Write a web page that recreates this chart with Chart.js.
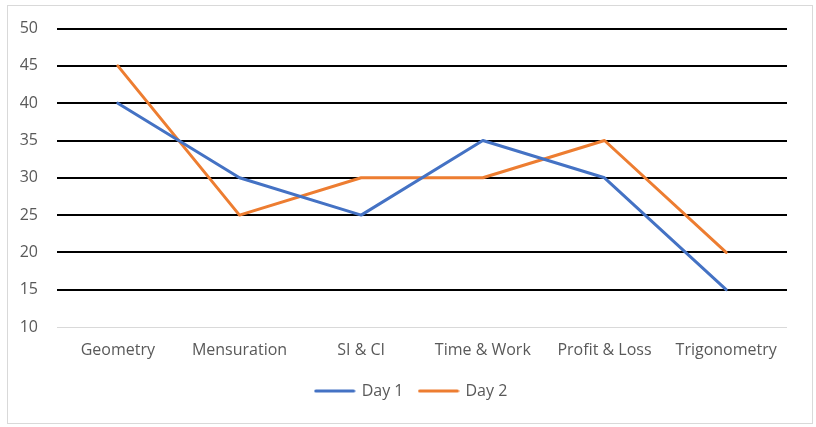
<!DOCTYPE html>
<html>
<head>
<meta charset="utf-8">
<script src="https://cdn.jsdelivr.net/npm/chart.js@4"></script>
<style>
html,body{margin:0;padding:0;background:#fff;}
#wrap{width:816px;height:427px;position:relative;}
</style>
</head>
<body>
<div id="wrap"><canvas id="c" width="816" height="427"></canvas></div>
<script>
const categories = ["Geometry", "Mensuration", "SI & CI", "Time & Work", "Profit & Loss", "Trigonometry"];
const day1 = [40, 30, 25, 35, 30, 15];
const day2 = [45, 25, 30, 30, 35, 20];
const yMin = 10, yMax = 50, yStep = 5;

function lineSample(color) {
  const cv = document.createElement('canvas');
  cv.width = 42; cv.height = 4;
  const g = cv.getContext('2d');
  g.strokeStyle = color; g.lineWidth = 3; g.lineCap = 'round';
  g.beginPath(); g.moveTo(2, 2); g.lineTo(40, 2); g.stroke();
  return cv;
}

const borderPlugin = {
  id: 'outerBorder',
  beforeDraw(chart) {
    const ctx = chart.ctx;
    ctx.save();
    ctx.fillStyle = '#fff';
    ctx.fillRect(0, 0, chart.width, chart.height);
    ctx.strokeStyle = '#d9d9d9';
    ctx.lineWidth = 1;
    ctx.strokeRect(7.5, 5.5, 805, 418);
    ctx.restore();
  },
  afterLayout(chart) {
    if (chart.legend) chart.legend.left = chart.chartArea.left - 21;
  }
};

Chart.defaults.font.family = "'Open Sans', sans-serif";
Chart.defaults.font.size = 16;
Chart.defaults.color = '#595959';

new Chart(document.getElementById('c'), {
  type: 'line',
  data: {
    labels: categories,
    datasets: [
      { label: 'Day 1', data: day1, borderColor: '#4472C4', backgroundColor: '#4472C4', borderWidth: 3, pointRadius: 0, pointStyle: lineSample('#4472C4'), tension: 0, borderCapStyle: 'round', borderJoinStyle: 'round' },
      { label: 'Day 2', data: day2, borderColor: '#ED7D31', backgroundColor: '#ED7D31', borderWidth: 3, pointRadius: 0, pointStyle: lineSample('#ED7D31'), tension: 0, borderCapStyle: 'round', borderJoinStyle: 'round' }
    ]
  },
  options: {
    responsive: false,
    animation: false,
    layout: { padding: { left: 0, right: 29, top: 28, bottom: 18 } },
    plugins: {
      legend: {
        position: 'bottom',
        labels: { usePointStyle: true, pointStyleWidth: 38, boxHeight: 16, padding: 16, font: { size: 16 } }
      },
      tooltip: { enabled: false }
    },
    scales: {
      x: {
        offset: true,
        grid: { display: false, drawTicks: false },
        border: { display: false },
        ticks: { padding: 14, font: { size: 16 } },
        afterFit(s) { s.height = 40; }
      },
      y: {
        min: yMin, max: yMax,
        ticks: { stepSize: yStep, padding: 19, font: { size: 16 } },
        border: { display: false },
        grid: {
          drawTicks: false,
          color: (c) => c.tick && c.tick.value === yMin ? '#d9d9d9' : '#000',
          lineWidth: (c) => c.tick && c.tick.value === yMin ? 1 : 2
        },
        afterFit(s) { s.width = 57; }
      }
    }
  },
  plugins: [borderPlugin]
});
</script>
</body>
</html>
